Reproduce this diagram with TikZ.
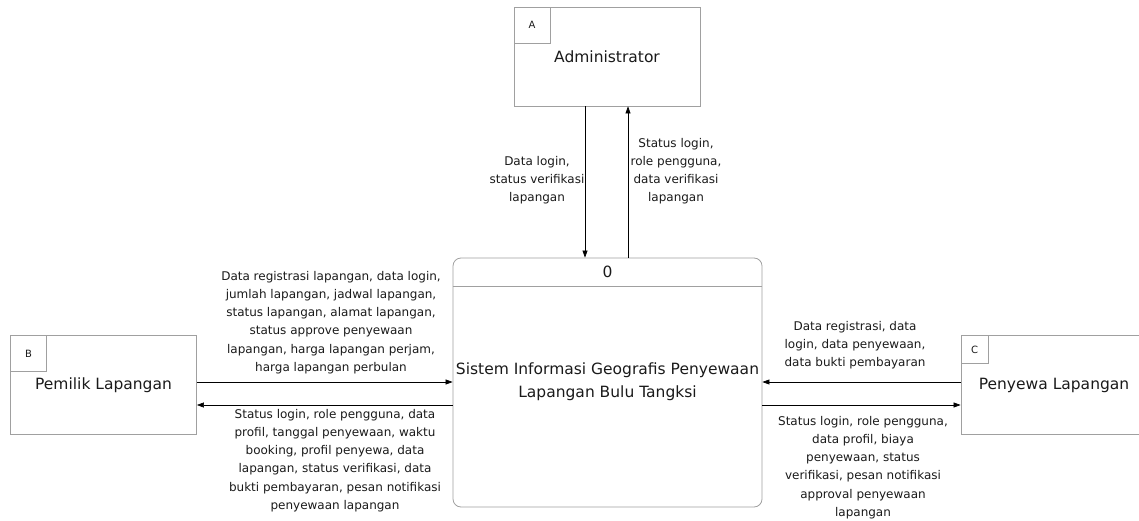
\documentclass[tikz,border=0pt]{standalone}
\usepackage{fontspec}
\setmainfont{DejaVu Sans}
\usetikzlibrary{arrows.meta}
\definecolor{boxgray}{HTML}{A0A0A0}
\definecolor{txt}{HTML}{1A1A1A}
\tikzset{
  ext/.style={draw=boxgray, line width=0.8pt, minimum width=186pt, minimum height=99pt, inner sep=0pt, font=\fontsize{15.5}{18}\selectfont, text=txt},
  tag/.style={draw=boxgray, line width=0.8pt, minimum width=36pt, minimum height=36pt, inner sep=0pt, font=\fontsize{10}{12}\selectfont, text=txt},
  proc/.style={draw=boxgray, line width=0.8pt, rounded corners=8pt, minimum width=309pt, minimum height=249pt, inner sep=0pt},
  flow/.style={draw=black, line width=0.6pt, -{Triangle[length=7pt,width=5pt]}},
  lbl/.style={align=center, font=\fontsize{12}{18.2}\selectfont, text=txt, inner sep=0pt},
}
\begin{document}
\begin{tikzpicture}[x=1pt,y=-1pt]
\useasboundingbox (0,0) rectangle (1139,521);
% external entities
\node[ext] (adm) at (607,56.5) {Administrator};
\node[tag, anchor=north west] (ta) at (adm.north west) {A};
\node[ext] (pem) at (103.5,385) {Pemilik Lapangan};
\node[tag, anchor=north west] (tb) at (pem.north west) {B};
\node[ext] (pen) at (1054,385) {Penyewa Lapangan};
\node[tag, anchor=north west, minimum width=27pt, minimum height=28pt] (tc) at (pen.north west) {C};
% process
\node[proc] (sys) at (607.5,382.5) {};
\node[font=\fontsize{15.5}{18}\selectfont, text=txt] (num) at (607.5,272) {0};
\coordinate (dl) at (sys.west |- 0,286);
\coordinate (dr) at (sys.east |- 0,286);
\draw[boxgray, line width=0.8pt] (dl) -- (dr);
\node[align=center, font=\fontsize{15.5}{23}\selectfont, text=txt] (sysname) at (607.5,381.5) {Sistem Informasi Geografis Penyewaan\\Lapangan Bulu Tangksi};
% flows admin
\coordinate (a1) at (585,0);
\coordinate (a2) at (628,0);
\draw[flow] (adm.south -| a1) -- (sys.north -| a1);
\draw[flow] (sys.north -| a2) -- (adm.south -| a2);
\node[lbl] (l1) at (537,180) {Data login,\\status verifikasi\\lapangan};
\node[lbl] (l2) at (676,171) {Status login,\\role pengguna,\\data verifikasi\\lapangan};
% flows pemilik
\coordinate (b1) at (0,382);
\coordinate (b2) at (0,405);
\draw[flow] (pem.east |- b1) -- (sys.west |- b1);
\draw[flow] (sys.west |- b2) -- (pem.east |- b2);
\node[lbl] (l3) at (331,322.5) {Data registrasi lapangan, data login,\\jumlah lapangan, jadwal lapangan,\\status lapangan, alamat lapangan,\\status approve penyewaan\\lapangan, harga lapangan perjam,\\harga lapangan perbulan};
\node[lbl] (l4) at (335,460.5) {Status login, role pengguna, data\\profil, tanggal penyewaan, waktu\\booking, profil penyewa, data\\lapangan, status verifikasi, data\\bukti pembayaran, pesan notifikasi\\penyewaan lapangan};
% flows penyewa
\draw[flow] (pen.west |- b1) -- (sys.east |- b1);
\draw[flow] (sys.east |- b2) -- (pen.west |- b2);
\node[lbl] (l5) at (855,345) {Data registrasi, data\\login, data penyewaan,\\data bukti pembayaran};
\node[lbl] (l6) at (863,467.5) {Status login, role pengguna,\\data profil, biaya\\penyewaan, status\\verifikasi, pesan notifikasi\\approval penyewaan\\lapangan};
\end{tikzpicture}
\end{document}
